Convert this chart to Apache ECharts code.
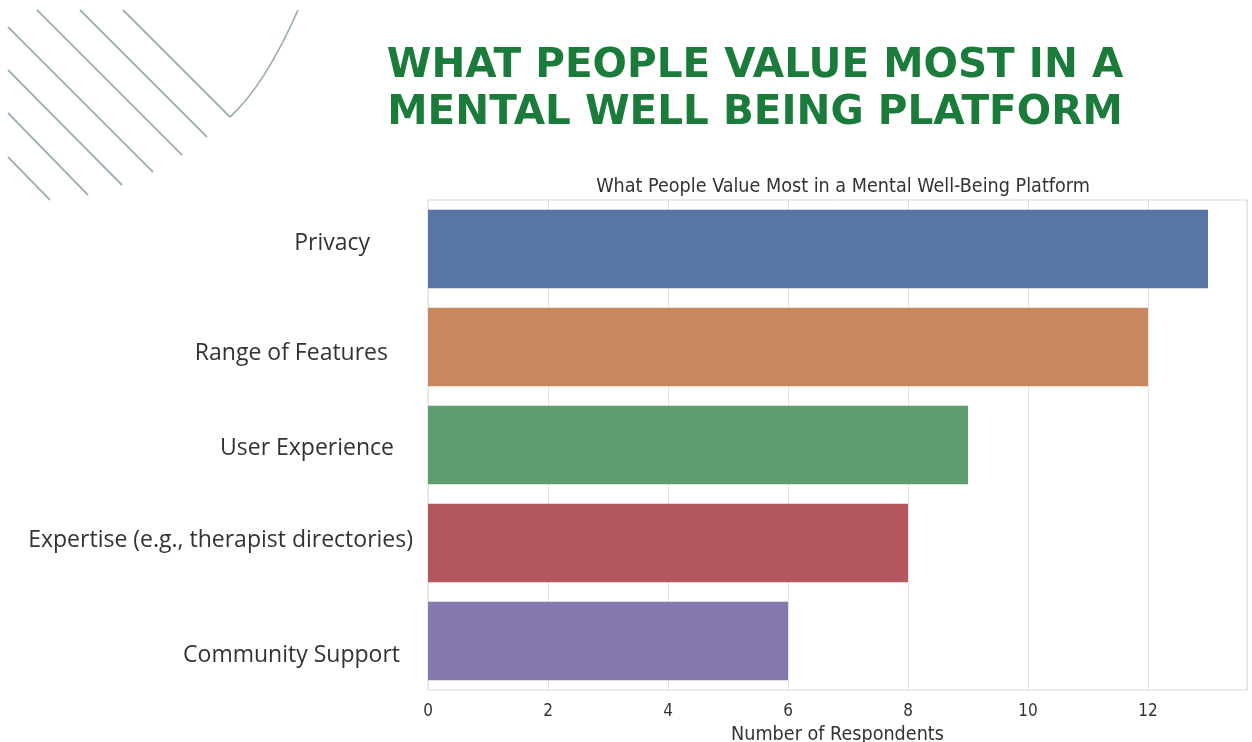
<!DOCTYPE html>
<html>
<head>
<meta charset="utf-8">
<script src="https://cdn.jsdelivr.net/npm/echarts@6/dist/echarts.min.js"></script>
<style>
html,body{margin:0;padding:0;background:#fff;}
#chart{width:1252px;height:742px;}
</style>
</head>
<body>
<div id="chart"></div>
<script>
const categories = ["Privacy", "Range of Features", "User Experience", "Expertise (e.g., therapist directories)", "Community Support"];
const values = [13, 12, 9, 8, 6];
const barColors = ["#5875a6", "#c98760", "#5e9e6e", "#b3575c", "#8779ad"];
const xTicks = [0, 2, 4, 6, 8, 10, 12];
const mainTitle = "WHAT PEOPLE VALUE MOST IN A\nMENTAL WELL BEING PLATFORM";
const chartTitle = "What People Value Most in a Mental Well-Being Platform";
const xAxisName = "Number of Respondents";

// per-label offsets to mimic the reference placement (right gap, vertical shift)
const labelRightGap = [58, 40, 34, 15, 28];
const labelShift = [-6, 6, 3, -3, 14];

const condensed = "'DejaVu Sans Condensed', 'DejaVu Sans'";

const rich = {};
categories.forEach((c, i) => {
  const s = labelShift[i];
  rich['l' + i] = {
    fontFamily: 'Open Sans',
    fontSize: 23,
    color: '#333',
    padding: [s > 0 ? 2 * s : 0, labelRightGap[i], s < 0 ? -2 * s : 0, 0]
  };
});

const deco = [];
const lines = [[123,10,230,117],[80,10,207,137],[37,10,182,155],[8,27,153,172],[8,70,122,185],[8,113,88,195],[8,157,50,200]];
lines.forEach(l => deco.push({type:'line', shape:{x1:l[0],y1:l[1],x2:l[2],y2:l[3]}, style:{stroke:'#9fb1b1', lineWidth:1.8}}));
deco.push({type:'bezierCurve', shape:{x1:230,y1:117,cpx1:265,cpy1:85,x2:298,y2:10}, style:{stroke:'#9fb1b1', lineWidth:1.8, fill:null}});

const chart = echarts.init(document.getElementById('chart'));
chart.setOption({
  backgroundColor: '#fff',
  animation: false,
  graphic: deco,
  title: [
    {text: mainTitle, left: 750, top: 38, textAlign: 'center',
     textStyle: {fontFamily: 'DejaVu Sans', fontWeight: 'bold', fontSize: 40.5, lineHeight: 47, color: '#1b7b3b'}},
    {text: chartTitle, left: 838, top: 172, textAlign: 'center',
     textStyle: {fontFamily: condensed, fontWeight: 'normal', fontSize: 19.6, color: '#333'}}
  ],
  grid: {left: 428, top: 200, width: 819, height: 490, show: true, borderColor: '#d9d9d9', borderWidth: 1,
         containLabel: false, outerBoundsMode: 'none'},
  xAxis: {
    type: 'value', min: 0, max: 13.65, interval: 2,
    name: xAxisName, nameLocation: 'middle', nameGap: 32,
    nameTextStyle: {fontFamily: condensed, fontSize: 19.6, color: '#333'},
    axisLine: {show: false}, axisTick: {show: false},
    axisLabel: {fontFamily: condensed, fontSize: 17, color: '#333', margin: 13, showMaxLabel: false,
      formatter: v => xTicks.includes(v) ? String(v) : ''},
    splitLine: {show: true, lineStyle: {color: '#e3e3e3', width: 1}}
  },
  yAxis: {
    type: 'category', data: categories, inverse: true,
    axisLine: {show: false}, axisTick: {show: false},
    splitLine: {show: false},
    axisLabel: {margin: 0, formatter: (v, i) => '{l' + i + '|' + v + '}', rich: rich}
  },
  series: [{
    type: 'bar',
    data: values.map((v, i) => ({value: v, itemStyle: {color: barColors[i]}})),
    barCategoryGap: '20%'
  }]
});
</script>
</body>
</html>
